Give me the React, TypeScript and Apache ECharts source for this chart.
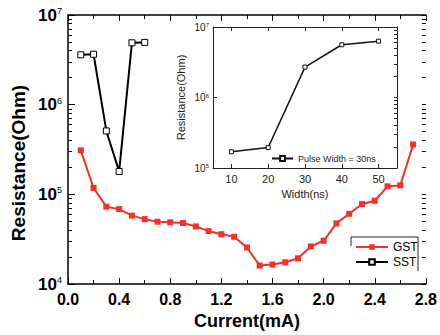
import React, { useEffect, useRef } from "react";
import * as echarts from "echarts";

const currents = [0.1, 0.2, 0.3, 0.4, 0.5, 0.6, 0.7, 0.8, 0.9, 1.0, 1.1, 1.2, 1.3, 1.4, 1.5, 1.6, 1.7, 1.8, 1.9, 2.0, 2.1, 2.2, 2.3, 2.4, 2.5, 2.6, 2.7];
const gstValues = [3.1e5, 1.18e5, 7.3e4, 6.85e4, 5.8e4, 5.3e4, 4.96e4, 4.88e4, 4.8e4, 4.4e4, 3.9e4, 3.6e4, 3.37e4, 2.56e4, 1.61e4, 1.65e4, 1.75e4, 1.94e4, 2.63e4, 3.04e4, 4.75e4, 6.08e4, 7.8e4, 8.5e4, 1.23e5, 1.26e5, 3.6e5];
const sstCurrents = [0.1, 0.2, 0.3, 0.4, 0.5, 0.6];
const sstValues = [3.6e6, 3.65e6, 5.1e5, 1.8e5, 4.9e6, 4.95e6];
const widths = [10, 20, 30, 40, 50];
const widthValues = [1.7e5, 1.95e5, 2.7e6, 5.6e6, 6.3e6];
const widthTicks = [10, 20, 30, 40, 50];

const FONT = "'Liberation Sans', Arial, sans-serif";

// exponents of log-axis tick positions (for hidden linear tick axes)
function logTickExps(lo: number, hi: number, minorOnly: boolean) {
  const out: number[] = [];
  for (let e = lo; e < hi; e++) {
    for (let m = minorOnly ? 2 : 1; m <= 9; m++) out.push(Math.log10(m * Math.pow(10, e)));
  }
  if (!minorOnly) out.push(hi);
  return out;
}

export default function App() {
  const ref = useRef<HTMLDivElement>(null);
  useEffect(() => {
    if (!ref.current) return;
    document.body.style.margin = "0";
    const chart = echarts.init(ref.current, undefined, { renderer: "svg" });
    const supFmt = (v: number) => `{b|10}{s|${Math.round(Math.log10(v))}}`;
    const mainRich = {
      b: { fontSize: 17, fontWeight: "bold", fontFamily: FONT, color: "#000" },
      s: { fontSize: 9, fontFamily: FONT, color: "#000", verticalAlign: "top" },
    };
    const insetRich = {
      b: { fontSize: 10, fontFamily: FONT, color: "#222" },
      s: { fontSize: 6, fontFamily: FONT, color: "#222", verticalAlign: "top" },
    };
    const line = { show: true, lineStyle: { color: "#000", width: 1.5 } };
    const inLine = { show: true, lineStyle: { color: "#222", width: 1 } };
    const hiddenLine = { show: true, lineStyle: { color: "#000", width: 0, opacity: 0 } };
    const option: any = {
      animation: false,
      backgroundColor: "#fff",
      grid: [
        { left: 68, top: 15, right: 13, bottom: 48 },
        { left: 213, top: 27, right: 43, bottom: 167 },
      ],
      legend: [
        {
          data: ["GST", "SST"],
          orient: "vertical",
          left: 355,
          top: 241,
          padding: 0,
          itemWidth: 32,
          itemHeight: 7,
          itemGap: 3,
          textStyle: { fontSize: 12, fontFamily: FONT, color: "#000" },
        },
        {
          data: ["Pulse Width = 30ns"],
          left: 271,
          top: 154,
          padding: 0,
          itemWidth: 21,
          itemHeight: 6,
          textStyle: { fontSize: 9, fontFamily: FONT, color: "#222" },
        },
      ],
      xAxis: [
        {
          gridIndex: 0, type: "value", position: "bottom", min: 0, max: 2.8, interval: 0.4,
          axisLine: line,
          axisTick: { show: true, inside: true, length: 6, lineStyle: { color: "#000" } },
          minorTick: { show: true, splitNumber: 2, length: 4, lineStyle: { color: "#000" } },
          splitLine: { show: false },
          axisLabel: { fontSize: 16, fontWeight: "bold", fontFamily: FONT, color: "#000", margin: 7, formatter: (v: number) => v.toFixed(1) },
          name: "Current(mA)", nameLocation: "middle", nameGap: 19,
          nameTextStyle: { fontSize: 18, fontWeight: "bold", fontFamily: FONT, color: "#000" },
        },
        {
          gridIndex: 0, type: "value", position: "top", min: 0, max: 2.8, interval: 0.4,
          axisLine: line,
          axisTick: { show: true, inside: true, length: 6, lineStyle: { color: "#000" } },
          minorTick: { show: true, splitNumber: 2, length: 4, lineStyle: { color: "#000" } },
          splitLine: { show: false },
          axisLabel: { show: false },
        },
        {
          gridIndex: 1, type: "value", position: "bottom", min: 5, max: 55,
          axisLine: inLine,
          axisTick: { show: true, inside: true, length: 4, customValues: widthTicks, lineStyle: { color: "#222" } },
          splitLine: { show: false },
          axisLabel: { fontSize: 11, fontFamily: FONT, color: "#222", margin: 5, customValues: widthTicks },
          name: "Width(ns)", nameLocation: "middle", nameGap: 20,
          nameTextStyle: { fontSize: 11, fontFamily: FONT, color: "#222" },
        },
        {
          gridIndex: 1, type: "value", position: "top", min: 5, max: 55,
          axisLine: inLine,
          axisTick: { show: true, inside: true, length: 4, customValues: widthTicks, lineStyle: { color: "#222" } },
          splitLine: { show: false },
          axisLabel: { show: false },
        },
      ],
      yAxis: [
        {
          gridIndex: 0, type: "log", logBase: 10, min: 1e4, max: 1e7, position: "left",
          axisLine: line,
          axisTick: { show: true, inside: true, length: 7, lineStyle: { color: "#000" } },
          splitLine: { show: false },
          axisLabel: { margin: 6, formatter: supFmt, rich: mainRich },
        },
        {
          gridIndex: 0, type: "value", min: 4, max: 7, position: "left",
          axisLine: hiddenLine,
          axisTick: { show: true, inside: true, length: 4, customValues: logTickExps(4, 7, true), lineStyle: { color: "#000" } },
          splitLine: { show: false },
          axisLabel: { show: false },
        },
        {
          gridIndex: 0, type: "value", min: 4, max: 7, position: "right",
          axisLine: hiddenLine,
          axisTick: { show: true, inside: true, length: 4, customValues: logTickExps(4, 7, false), lineStyle: { color: "#000" } },
          splitLine: { show: false },
          axisLabel: { show: false },
        },
        {
          gridIndex: 1, type: "log", logBase: 10, min: 1e5, max: 1e7, position: "left",
          axisLine: inLine,
          axisTick: { show: true, inside: true, length: 4, lineStyle: { color: "#222" } },
          splitLine: { show: false },
          axisLabel: { margin: 4, formatter: supFmt, rich: insetRich },
          name: "Resistance(Ohm)", nameLocation: "middle", nameGap: 27,
          nameTextStyle: { fontSize: 11, fontFamily: FONT, color: "#222" },
        },
        {
          gridIndex: 1, type: "value", min: 5, max: 7, position: "right",
          axisLine: inLine,
          axisTick: { show: true, inside: true, length: 3, customValues: logTickExps(5, 7, false), lineStyle: { color: "#222" } },
          splitLine: { show: false },
          axisLabel: { show: false },
        },
      ],
      series: [
        {
          name: "GST", type: "line", xAxisIndex: 0, yAxisIndex: 0,
          data: currents.map((c, i) => [c, gstValues[i]]),
          symbol: "rect", symbolSize: 6,
          lineStyle: { color: "#f5302a", width: 2 },
          itemStyle: { color: "#f5302a" },
        },
        {
          name: "SST", type: "line", xAxisIndex: 0, yAxisIndex: 0,
          data: sstCurrents.map((c, i) => [c, sstValues[i]]),
          symbol: "rect", symbolSize: 6,
          lineStyle: { color: "#000", width: 2 },
          itemStyle: { color: "#fff", borderColor: "#000", borderWidth: 1 },
        },
        {
          name: "Pulse Width = 30ns", type: "line", xAxisIndex: 2, yAxisIndex: 3,
          data: widths.map((w, i) => [w, widthValues[i]]),
          symbol: "rect", symbolSize: 4,
          lineStyle: { color: "#111", width: 1.5 },
          itemStyle: { color: "#fff", borderColor: "#111", borderWidth: 1 },
        },
      ],
      graphic: [
        {
          type: "text", x: 18, y: 163, rotation: Math.PI / 2,
          style: { text: "Resistance(Ohm)", fontSize: 19, fontWeight: "bold", fontFamily: FONT, fill: "#000", textAlign: "center", textVerticalAlign: "middle" },
        },
        {
          type: "polyline",
          shape: { points: [[351, 246], [351, 237], [418, 237], [418, 271]] },
          style: { stroke: "#222", lineWidth: 1, fill: null },
        },
      ],
    };
    chart.setOption(option);
    return () => chart.dispose();
  }, []);
  return <div ref={ref} style={{ width: 440, height: 335 }} />;
}
